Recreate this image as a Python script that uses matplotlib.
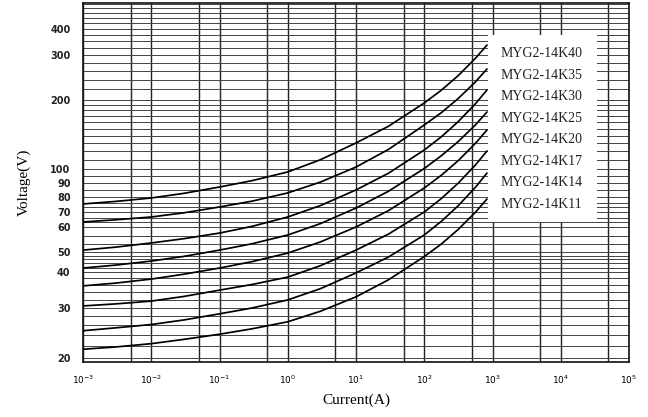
import numpy as np
import matplotlib
matplotlib.use("Agg")
import matplotlib.pyplot as plt
from matplotlib.ticker import FixedLocator, NullFormatter
from matplotlib.patches import Rectangle

# current (A) where the curves were read
current = [1e-3, 3e-3, 1e-2, 3e-2, 1e-1, 3e-1, 1, 3, 10, 30, 100, 178, 316, 562, 830]

# voltage (V) for every varistor
k40 = [75.2, 76.9, 79.3, 82.5, 87.0, 91.6, 97.8, 109.7, 129.9, 153.7, 194.1, 218.5, 249.4, 291.2, 335.0]
k35 = [63.2, 64.6, 66.5, 69.4, 73.2, 77.1, 82.8, 90.6, 102.0, 121.8, 155.6, 176.1, 202.9, 235.5, 264.5]
k30 = [50.7, 51.8, 53.4, 55.1, 57.4, 60.4, 66.5, 74.1, 84.9, 96.9, 121.0, 138.2, 161.2, 192.5, 218.9]
k25 = [41.8, 43.2, 45.2, 47.6, 50.7, 53.1, 56.6, 62.1, 72.5, 84.0, 100.5, 114.3, 131.9, 155.7, 177.3]
k20 = [35.8, 36.6, 37.8, 39.3, 41.8, 44.9, 49.4, 53.8, 60.0, 70.9, 86.3, 95.4, 108.9, 129.4, 148.0]
k17 = [30.5, 31.0, 31.7, 32.9, 34.6, 36.2, 38.4, 42.9, 50.7, 57.0, 70.0, 78.9, 90.0, 104.1, 119.8]
k14 = [24.9, 25.5, 26.2, 27.2, 28.6, 30.0, 32.0, 35.0, 39.7, 47.3, 56.6, 63.6, 74.1, 86.8, 97.0]
k11 = [21.4, 21.8, 22.4, 23.2, 24.2, 25.3, 26.8, 29.2, 32.8, 37.6, 47.5, 53.0, 59.0, 69.8, 78.6]

series = [k40, k35, k30, k25, k20, k17, k14, k11]
names = ["MYG2-14K40", "MYG2-14K35", "MYG2-14K30", "MYG2-14K25",
         "MYG2-14K20", "MYG2-14K17", "MYG2-14K14", "MYG2-14K11"]

ytick_vals = [20, 30, 40, 50, 60, 70, 80, 90, 100, 200, 300, 400]
xtick_exp = [-3, -2, -1, 0, 1, 2, 3, 4, 5]

# the printed voltage axis is not a clean log scale: anchor it on its labels
anchor_v = np.array([19.3, 20, 30, 40, 50, 60, 70, 80, 90, 100, 200, 300, 400, 530])
anchor_px = np.array([362, 357.5, 308, 272, 252, 227, 212, 197, 183, 169, 100, 55, 29, 3])
anchor_l = np.log10(anchor_v)
anchor_f = (362 - anchor_px) / 359.0


def fwd(v):
    v = np.clip(np.asarray(v, dtype=float), 1e-9, None)
    return np.interp(np.log10(v), anchor_l, anchor_f)


def inv(f):
    return 10 ** np.interp(np.asarray(f, dtype=float), anchor_f, anchor_l)


grid_v = (list(range(20, 50, 2)) + [50, 53, 56, 60, 63, 66, 70, 73, 76, 80, 85, 90, 95]
          + list(range(100, 200, 10)) + list(range(200, 300, 20))
          + [300, 325, 350, 375, 400, 425, 450, 475, 500, 525])

fig = plt.figure(figsize=(6.48, 4.17), dpi=100)
ax = fig.add_axes([83 / 648, 1 - 362 / 417, 546 / 648, 359 / 417])

ax.set_xscale("log")
ax.set_yscale("function", functions=(fwd, inv))
ax.set_xlim(1e-3, 1e5)
ax.set_ylim(19.3, 530)

ax.xaxis.set_major_locator(FixedLocator([10.0 ** e for e in xtick_exp]))
ax.xaxis.set_minor_locator(FixedLocator([5 * 10.0 ** e for e in xtick_exp[:-1]]))
ax.set_xticklabels([r"$10^{%d}$" % e for e in xtick_exp])
ax.xaxis.set_minor_formatter(NullFormatter())

ax.yaxis.set_major_locator(FixedLocator(ytick_vals))
ax.yaxis.set_minor_locator(FixedLocator(grid_v))
ax.set_yticklabels([str(v) for v in ytick_vals])
ax.yaxis.set_minor_formatter(NullFormatter())

ax.tick_params(which="both", length=0)
ax.tick_params(axis="y", pad=9, labelsize=7)
ax.tick_params(axis="x", pad=8, labelsize=6.5)
for t in ax.get_yticklabels():
    t.set_fontweight("bold")
    t.set_color("#222222")

ax.grid(True, axis="x", which="both", color="#222222", lw=1.0)
ax.grid(True, axis="y", which="both", color="#444444", lw=0.7)
ax.set_axisbelow(True)

for s in ax.spines.values():
    s.set_linewidth(1.2)
    s.set_color("#111111")

for v in series:
    ax.plot(current, v, color="black", lw=1.25, zorder=3,
            solid_joinstyle="round", solid_capstyle="round")

# white label panel over the right part of the grid
ax.add_patch(Rectangle((0.742, 0.390), 0.199, 0.521, transform=ax.transAxes,
                       facecolor="white", edgecolor="none", zorder=4))
for i, n in enumerate(names):
    ax.text(0.765, 0.858 - i * 0.0597, n, transform=ax.transAxes,
            fontsize=10, family="Liberation Serif", color="#222222",
            va="center", ha="left", zorder=5)

ax.set_xlabel("Current(A)", family="Liberation Serif", fontsize=11, labelpad=6)
ax.set_ylabel("Voltage(V)", family="Liberation Serif", fontsize=11, labelpad=14)

fig.savefig("out.png", dpi=100)
